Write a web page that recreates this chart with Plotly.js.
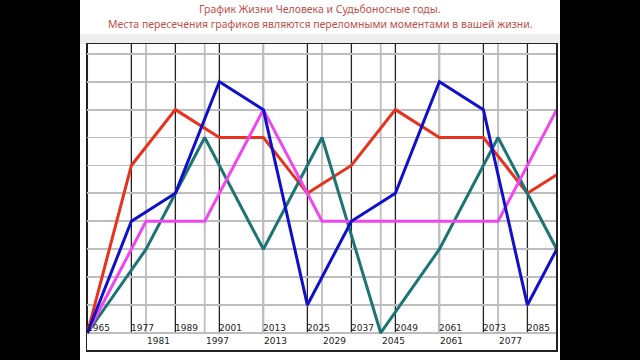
<!DOCTYPE html>
<html>
<head>
<meta charset="utf-8">
<script src="https://cdn.plot.ly/plotly-3.0.1.min.js"></script>
<style>
html,body{margin:0;padding:0;background:#000;width:640px;height:360px;overflow:hidden;}
#chart{position:absolute;left:80px;top:0;width:480px;height:360px;background:#fff;}
</style>
</head>
<body>
<div id="chart"></div>
<script>
// Years with black lines (first label row) and gray lines (second label row)
const yearsMain = [1965, 1977, 1989, 2001, 2013, 2025, 2037, 2049, 2061, 2073, 2085];
const yearsAlt  = [1981, 1997, 2013, 2029, 2045, 2061, 2077];

// Series (12-year step)
const years12 = [1965, 1977, 1989, 2001, 2013, 2025, 2037, 2049, 2061, 2073, 2085, 2097];
const redValues  = [0, 6, 8, 7, 7, 5, 6, 8, 7, 7, 5, 6];
const blueValues = [0, 4, 5, 9, 8, 1, 4, 5, 9, 8, 1, 4];

// Series (16-year step)
const years16 = [1965, 1981, 1997, 2013, 2029, 2045, 2061, 2077, 2093];
const magentaValues = [0, 4, 4, 8, 4, 4, 4, 4, 8];
const tealValues    = [0, 3, 7, 3, 7, 0, 3, 7, 3];

const titleLine1 = "График Жизни Человека и Судьбоносные годы.";
const titleLine2 = "Места пересечения графиков являются переломными моментами в вашей жизни.";

const X_RANGE = [1964.9, 2092.8];
const Y_RANGE = [-0.61, 10.35];
const LW = 3;

const traces = [
  {x: years12, y: redValues, mode: 'lines', line: {color: '#e8321e', width: LW}},
  {x: years16, y: tealValues, mode: 'lines', line: {color: '#1c7474', width: LW}},
  {x: years16, y: magentaValues, mode: 'lines', line: {color: '#f046f0', width: LW}},
  {x: years12, y: blueValues, mode: 'lines', line: {color: '#1010cc', width: LW}}
];

const shapes = [];
// light band below title
shapes.push({type: 'rect', xref: 'paper', yref: 'paper', x0: -0.02, x1: 1.02, y0: 1.0, y1: 1.033,
  fillcolor: '#eeeeee', line: {width: 0}, layer: 'below'});
yearsMain.forEach(yr => shapes.push({type: 'line', xref: 'x', yref: 'y', x0: yr, x1: yr, y0: 0, y1: Y_RANGE[1],
  line: {color: '#222222', width: 1.3}, layer: 'below'}));
yearsAlt.forEach(yr => shapes.push({type: 'line', xref: 'x', yref: 'y', x0: yr, x1: yr, y0: 0, y1: Y_RANGE[1],
  line: {color: '#bdbdbd', width: 1.8}, layer: 'below'}));

const annotations = [];
const tickFont = {family: 'DejaVu Sans', size: 9, color: '#222'};
yearsMain.forEach(yr => annotations.push({x: yr, y: 0.19, xref: 'x', yref: 'y', text: String(yr),
  showarrow: false, xanchor: 'left', yanchor: 'middle', xshift: -2, font: tickFont}));
yearsAlt.forEach(yr => annotations.push({x: yr, y: -0.27, xref: 'x', yref: 'y', text: String(yr),
  showarrow: false, xanchor: 'left', yanchor: 'middle', xshift: -1, font: tickFont}));
const titleFont = {family: 'Noto Sans', size: 10.5, color: '#c0504d'};
annotations.push({x: 0.497, y: 1.1134, xref: 'paper', yref: 'paper', text: titleLine1, showarrow: false,
  xanchor: 'center', yanchor: 'middle', font: titleFont});
annotations.push({x: 0.497, y: 1.0654, xref: 'paper', yref: 'paper', text: titleLine2, showarrow: false,
  xanchor: 'center', yanchor: 'middle', font: titleFont});

const layout = {
  width: 480, height: 360,
  margin: {l: 7, r: 4, t: 44, b: 10},
  paper_bgcolor: '#ffffff', plot_bgcolor: '#ffffff',
  showlegend: false,
  xaxis: {range: X_RANGE, showgrid: false, zeroline: false, showticklabels: false, ticks: '',
    showline: true, mirror: true, linecolor: '#222', linewidth: 1.5},
  yaxis: {range: Y_RANGE, tickvals: [0,1,2,3,4,5,6,7,8,9,10], showticklabels: false, ticks: '',
    showgrid: true, gridcolor: '#bdbdbd', gridwidth: 1.8, zeroline: false,
    showline: true, mirror: true, linecolor: '#222', linewidth: 1.5},
  shapes: shapes,
  annotations: annotations
};

Plotly.newPlot('chart', traces, layout, {displayModeBar: false, staticPlot: true});
</script>
</body>
</html>
